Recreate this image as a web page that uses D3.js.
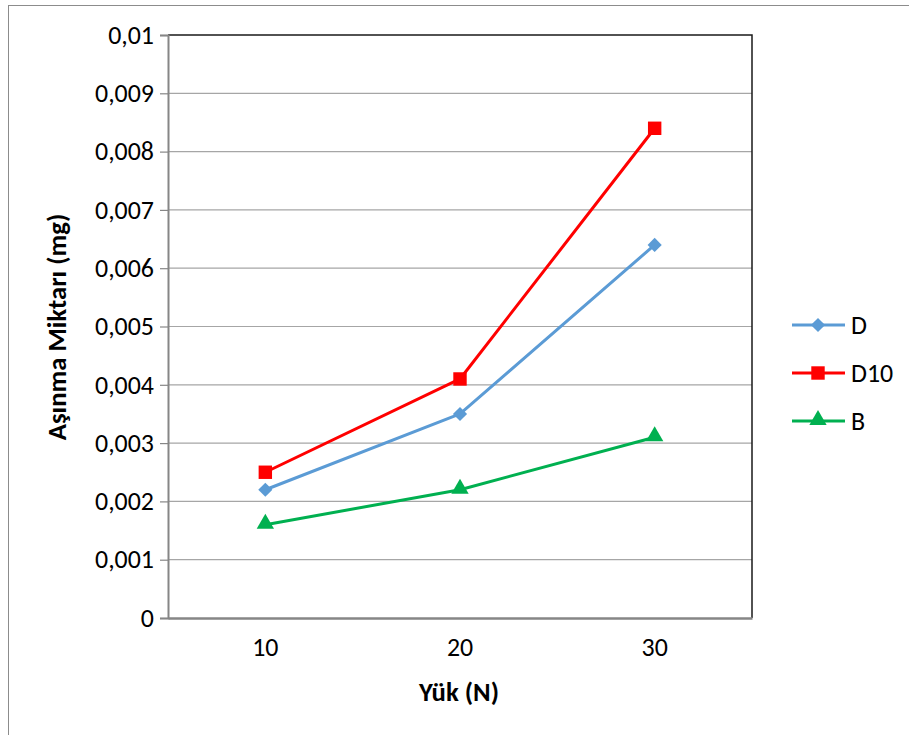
<!DOCTYPE html>
<html><head><meta charset="utf-8">
<script src="https://cdn.jsdelivr.net/npm/d3@7"></script>
<style>body{margin:0;background:#fff}svg{display:block}</style>
</head><body>
<script>
const categories = ["10", "20", "30"];
const seriesNames = ["D", "D10", "B"];
const valuesD = [0.0022, 0.0035, 0.0064];
const valuesD10 = [0.0025, 0.0041, 0.0084];
const valuesB = [0.0016, 0.0022, 0.0031];
const yTicks = [0, 0.001, 0.002, 0.003, 0.004, 0.005, 0.006, 0.007, 0.008, 0.009, 0.01];
const yTickLabels = ["0", "0,001", "0,002", "0,003", "0,004", "0,005", "0,006", "0,007", "0,008", "0,009", "0,01"];
const colors = ["#5b9bd5", "#ff0000", "#00b050"];
const symbols = [d3.symbolSquare, d3.symbolSquare, d3.symbolTriangle];
const symSizes = [100, 180, 130];
const symRot = [45, 0, 0];

const W = 909, H = 735;
const svg = d3.select("body").append("svg").attr("width", W).attr("height", H);
const font = "Carlito, Lato, 'Open Sans', sans-serif";

function fitSize(sample, weight, target) {
  const t = svg.append("text").attr("font-family", font).attr("font-size", 100)
    .attr("font-weight", weight).text(sample);
  const w = t.node().getComputedTextLength();
  t.remove();
  return 100 * target / w;
}
const tickFS = fitSize("0,005", "normal", 59);
const titleFS = fitSize("Yük (N)", "bold", 80);

// outer border
svg.append("rect").attr("x", 8.5).attr("y", 5.5).attr("width", W + 10).attr("height", H + 10)
  .attr("fill", "none").attr("stroke", "#8c8c8c").attr("stroke-width", 1);

const L = 168, T = 35, R = 752, B = 618;
const x = d3.scaleBand().domain(categories).range([L, R]);
const y = d3.scaleLinear().domain([0, 0.01]).range([B, T]);

// gridlines
svg.append("g").selectAll("line").data(yTicks.slice(1, -1)).join("line")
  .attr("x1", L).attr("x2", R).attr("y1", d => y(d)).attr("y2", d => y(d))
  .attr("stroke", "#a6a6a6").attr("stroke-width", 1.2);

// plot border top/right
svg.append("path").attr("d", `M${L},${T}H${R}V${B}`).attr("fill", "none")
  .attr("stroke", "#1a1a1a").attr("stroke-width", 1.5);

// y axis
const yAxis = d3.axisLeft(y).tickValues(yTicks).tickFormat((d, i) => yTickLabels[i]).tickSize(8).tickPadding(6);
const gy = svg.append("g").attr("transform", `translate(${L},0)`).call(yAxis);
gy.select(".domain").attr("stroke", "#868686").attr("stroke-width", 2);
gy.selectAll(".tick line").attr("stroke", "#868686").attr("stroke-width", 1.2);
gy.selectAll("text").attr("font-family", font).attr("font-size", tickFS).attr("fill", "#000");

// x axis
const xAxis = d3.axisBottom(x).tickSize(0).tickPadding(20);
const gx = svg.append("g").attr("transform", `translate(0,${B})`).call(xAxis);
gx.select(".domain").attr("stroke", "#868686").attr("stroke-width", 2.5);
gx.selectAll("text").attr("font-family", font).attr("font-size", tickFS).attr("fill", "#000");

// axis titles
svg.append("text").attr("x", 459).attr("y", 701).attr("text-anchor", "middle")
  .attr("font-family", font).attr("font-size", titleFS).attr("font-weight", "bold").text("Yük (N)");
svg.append("text").attr("transform", "translate(66,327) rotate(-90)").attr("text-anchor", "middle")
  .attr("font-family", font).attr("font-size", titleFS).attr("font-weight", "bold").text("Aşınma Miktarı (mg)");

// series
const allSeries = [valuesD, valuesD10, valuesB];
const line = d3.line().x((d, i) => x(categories[i]) + x.bandwidth() / 2).y(d => y(d));
allSeries.forEach((vals, s) => {
  svg.append("path").datum(vals).attr("d", line).attr("fill", "none")
    .attr("stroke", colors[s]).attr("stroke-width", 3).attr("stroke-linejoin", "round");
  svg.append("g").selectAll("path").data(vals).join("path")
    .attr("transform", (d, i) => `translate(${x(categories[i]) + x.bandwidth() / 2},${y(d) + (s === 2 ? -1 : 0)}) rotate(${symRot[s]})`)
    .attr("d", d3.symbol().type(symbols[s]).size(symSizes[s]))
    .attr("fill", colors[s]);
});

// legend
const ly = [325, 373, 421];
seriesNames.forEach((name, s) => {
  const g = svg.append("g").attr("transform", `translate(0,${ly[s]})`);
  g.append("line").attr("x1", 792).attr("x2", 845).attr("y1", 0).attr("y2", 0)
    .attr("stroke", colors[s]).attr("stroke-width", 3);
  g.append("path").attr("transform", `translate(818,${s === 2 ? -1 : 0}) rotate(${symRot[s]})`)
    .attr("d", d3.symbol().type(symbols[s]).size(symSizes[s])).attr("fill", colors[s]);
  g.append("text").attr("x", 851).attr("y", 0).attr("dy", "0.35em").attr("font-family", font).attr("font-size", tickFS)
    .attr("fill", "#000").text(name);
});
</script>
</body></html>
